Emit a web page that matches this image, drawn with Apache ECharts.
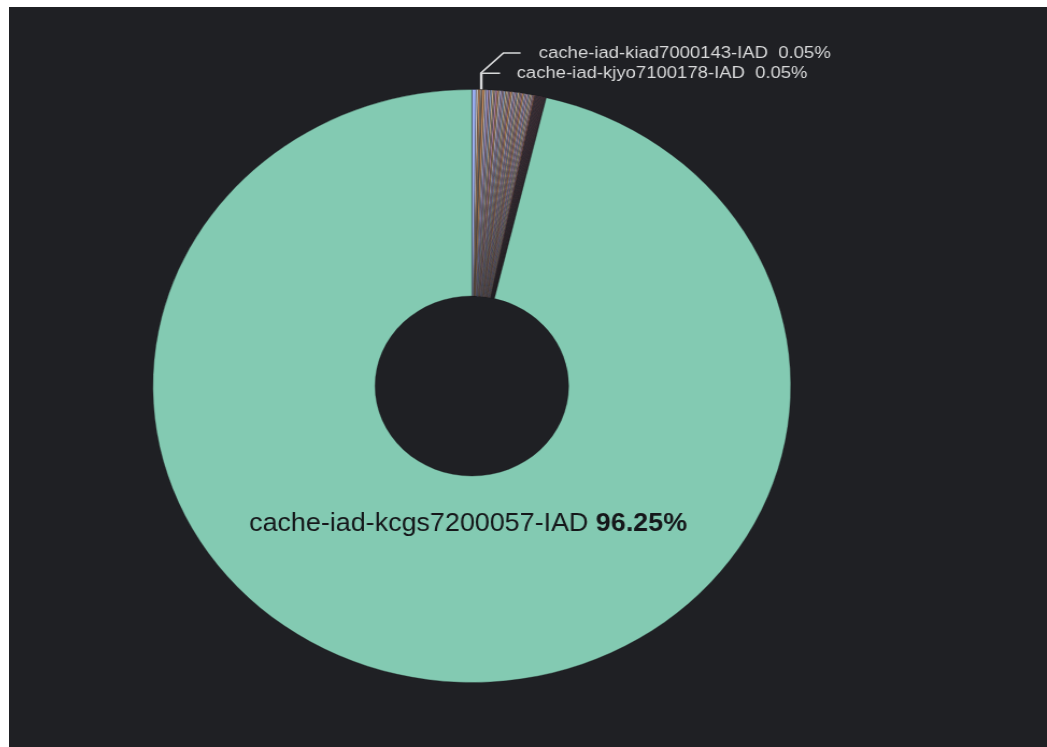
<!DOCTYPE html>
<html>
<head>
<meta charset="utf-8">
<script src="https://cdn.jsdelivr.net/npm/echarts@6/dist/echarts.min.js"></script>
<style>
  html, body { margin: 0; padding: 0; width: 1047px; height: 747px; overflow: hidden; background: #ffffff; }
  #panel { position: absolute; left: 9px; top: 7px; width: 1038px; height: 740px; background: #1f2024; overflow: hidden; }
  /* the panel is drawn slightly wider than tall */
  #chart { position: absolute; left: 0; top: 0; width: 965px; height: 740px; transform: scaleX(1.0756); transform-origin: 0 0; }
</style>
</head>
<body>
<div id="panel"><div id="chart"></div></div>
<script>
// Share of requests per cache node (percent), clockwise from 12 o'clock
const mainHost = 'cache-iad-kcgs7200057-IAD';
const mainShare = 96.25;

const headShares = [0.22, 0.10, 0.10];

const labeledHosts = ['cache-iad-kiad7000143-IAD', 'cache-iad-kjyo7100178-IAD'];
const labeledShares = [0.05, 0.05];

const midShares = [0.12, 0.09, 0.11, 0.08, 0.10, 0.09, 0.07, 0.10, 0.08, 0.09, 0.08,
                   0.07, 0.09, 0.08, 0.08, 0.07, 0.09, 0.08, 0.07, 0.08, 0.07, 0.08,
                   0.07, 0.07, 0.08, 0.07, 0.07, 0.08, 0.07, 0.07, 0.08, 0.06, 0.05];

const tailShares = [0.03, 0.02, 0.02, 0.03, 0.02, 0.02, 0.02, 0.03, 0.02, 0.02,
                    0.02, 0.02, 0.02, 0.02, 0.02, 0.02, 0.02, 0.02, 0.02, 0.02,
                    0.02, 0.01, 0.02, 0.02, 0.02, 0.02, 0.01, 0.02, 0.01, 0.01];

// colours
const mainColor = '#83cab2';
const headColors = ['#9aaef0', '#e2dcdc', '#c48e62'];
const labeledColors = ['#e4dfda', '#b89a8c'];
const midColors = ['#c8905f', '#cfc8cc', '#a49ed6', '#cfa0a6', '#92a8cc', '#dcbc94', '#aca49e', '#bc8cae'];
const tailColors = ['#b46a7c', '#6e5868', '#c27888', '#5e5a6c'];

// geometry of the ring inside the (unscaled) chart box
const CX = 430.3, CY = 379, R_IN = 90, R_OUT = 296.5;

const labelColor = '#d8d9da';
const fontFamily = '"Liberation Sans", Helvetica, Arial, sans-serif';

const data = [];
headShares.forEach((v, i) => data.push({
  name: 'node-a' + i, value: v, itemStyle: { color: headColors[i % headColors.length] }
}));
labeledShares.forEach((v, i) => data.push({
  name: labeledHosts[i], value: v,
  itemStyle: { color: labeledColors[i] },
  label: {
    show: true, position: 'outside', color: labelColor, fontSize: 17.2,
    fontFamily: fontFamily, formatter: '{b}  {d}%'
  },
  labelLine: { show: true, length: 16, length2: 17, lineStyle: { color: labelColor, width: 1.5 } }
}));
midShares.forEach((v, i) => data.push({
  name: 'node-b' + i, value: v, itemStyle: { color: midColors[i % midColors.length] }
}));
tailShares.forEach((v, i) => data.push({
  name: 'node-c' + i, value: v, itemStyle: { color: tailColors[i % tailColors.length] }
}));
const mainIndex = data.length;
data.push({
  name: mainHost, value: mainShare,
  itemStyle: { color: mainColor },
  label: {
    show: true, position: 'inside', color: '#15171a', fontSize: 25, fontFamily: fontFamily,
    formatter: '{b} {p|{d}%}',
    rich: { p: { fontWeight: 'bold', fontSize: 25, color: '#15171a', fontFamily: fontFamily } }
  },
  labelLine: { show: false }
});
const firstLabeled = headShares.length;

const chart = echarts.init(document.getElementById('chart'), null, { renderer: 'canvas' });
chart.setOption({
  backgroundColor: '#1f2024',
  animation: false,
  series: [{
    type: 'pie',
    center: [CX, CY],
    radius: [R_IN, R_OUT],
    startAngle: 90,
    clockwise: true,
    avoidLabelOverlap: false,
    percentPrecision: 2,
    minAngle: 0,
    label: { show: false },
    labelLine: { show: false },
    emphasis: { disabled: true },
    itemStyle: { borderColor: '#1c1d21', borderWidth: 0.35 },
    labelLayout: function (p) {
      if (p.dataIndex === mainIndex) {
        return { x: CX - 3.5, y: CY + 138, align: 'center', verticalAlign: 'middle' };
      }
      if (!p.labelLinePoints) return {};
      const a = p.labelLinePoints[0];
      if (p.dataIndex === firstLabeled) {
        const bend = a[1] - 16.5, top = a[1] - 36.5;
        return {
          x: a[0] + 54, y: top, align: 'left', verticalAlign: 'middle',
          labelLinePoints: [[a[0], a[1]], [a[0], bend], [a[0] + 21, top], [a[0] + 37, top]]
        };
      }
      if (p.dataIndex === firstLabeled + 1) {
        const bend = a[1] - 16.5;
        return {
          x: a[0] + 32.5, y: bend, align: 'left', verticalAlign: 'middle',
          labelLinePoints: [[a[0], a[1]], [a[0], bend], [a[0] + 17, bend]]
        };
      }
      return {};
    },
    data: data
  }]
});
</script>
</body>
</html>
